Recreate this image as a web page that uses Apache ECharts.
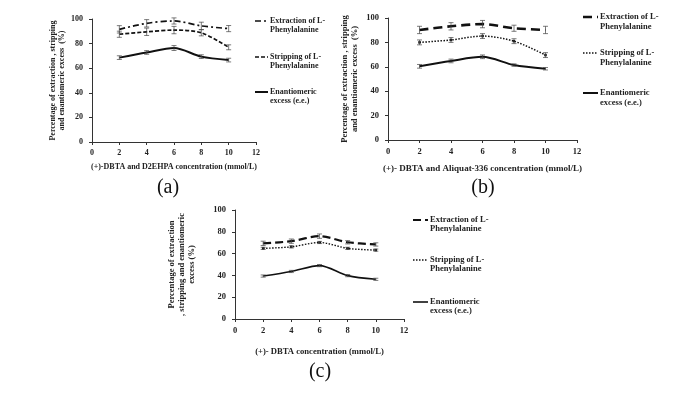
<!DOCTYPE html>
<html>
<head>
<meta charset="utf-8">
<script src="https://cdn.jsdelivr.net/npm/echarts@6/dist/echarts.min.js"></script>
<style>
  html, body { margin: 0; padding: 0; background: #fff; }
  #chart { width: 700px; height: 393px; }
</style>
</head>
<body>
<div id="chart"></div>
<script>
// concentration (mmol/L)
const conc = [2, 4, 6, 8, 10];

// (a) (+)-DBTA and D2EHPA
const extractA = [91.6, 96.5, 98.4, 94.4, 92.2];
const stripA = [87.6, 89.6, 91, 88.8, 77];
const eeA = [68.6, 72.8, 76.4, 69.4, 66.6];
const errExtractA = [3, 3, 2.5, 3, 2.5];
const errStripA = [2.5, 3, 3, 2.5, 2];
const errEeA = [1.5, 1.5, 2, 1.5, 1.5];

// (b) (+)-DBTA and Aliquat-336
const extractB = [90.2, 93.2, 95, 91.6, 90.2];
const stripB = [80, 82, 85.2, 81, 69.6];
const eeB = [60.4, 64.8, 68.2, 61.4, 58.4];
const errExtractB = [3, 3, 3, 2.5, 3];
const errStripB = [2, 2, 2, 2, 2];
const errEeB = [1.5, 1.5, 1.5, 1, 1];

// (c) (+)-DBTA
const extractC = [69.4, 71.4, 76, 70.4, 68.4];
const stripC = [64.8, 66.2, 70.2, 64.8, 63.2];
const eeC = [39.4, 43.6, 49, 39.8, 36.4];
const errExtractC = [2, 2, 2, 1.5, 1.5];
const errStripC = [1, 1, 1, 1, 1];
const errEeC = [1, 1, 1, 1, 1];

const legendNames = ["Extraction of L-\nPhenylalanine", "Stripping of L-\nPhenylalanine", "Enantiomeric\nexcess (e.e.)"];
const xTitles = [
  "(+)-DBTA and D2EHPA concentration (mmol/L)",
  "(+)- DBTA and Aliquat-336 concentration (mmol/L)",
  "(+)- DBTA concentration (mmol/L)"
];
const yTitles = [
  "Percentage of extraction , stripping\nand enantiomeric excess  (%)",
  "Percentage of extraction , stripping\nand enantiomeric excess  (%)",
  "Percentage of extraction\n, stripping and enantiomeric\nexcess (%)"
];
const panelLabels = ["(a)", "(b)", "(c)"];

const FONT = "Liberation Serif";
const chart = echarts.init(document.getElementById("chart"));

const grids = [
  { left: 92, top: 19, width: 164, height: 123 },
  { left: 388, top: 18, width: 189, height: 122 },
  { left: 235, top: 210, width: 169, height: 109 }
];
const xGaps = [21, 24, 28];
const yGaps = [25, 28, 38];
const fs = [8, 8.5, 8.5];
const titleFs = [8, 9, 8.6];

const xAxes = grids.map((g, i) => ({
  gridIndex: i, type: "value", min: 0, max: 12, interval: 2,
  name: xTitles[i], nameLocation: "middle", nameGap: xGaps[i],
  nameTextStyle: { fontFamily: FONT, fontWeight: "bold", fontSize: titleFs[i], color: "#222" },
  axisLine: { lineStyle: { color: "#333", width: 1 } },
  axisTick: { show: true, length: 3, lineStyle: { color: "#333" } },
  axisLabel: { fontFamily: FONT, fontWeight: "bold", fontSize: fs[i], color: "#222", margin: 7 },
  splitLine: { show: false }
}));
const yAxes = grids.map((g, i) => ({
  gridIndex: i, type: "value", min: 0, max: 100, interval: 20,
  name: yTitles[i], nameLocation: "middle", nameGap: yGaps[i],
  nameTextStyle: { fontFamily: FONT, fontWeight: "bold", fontSize: fs[i], color: "#222", lineHeight: fs[i] + 1.5 },
  axisLine: { show: true, lineStyle: { color: "#333", width: 1 } },
  axisTick: { show: true, length: 3, lineStyle: { color: "#333" } },
  axisLabel: { fontFamily: FONT, fontWeight: "bold", fontSize: fs[i], color: "#222", margin: 9 },
  splitLine: { show: false }
}));

const pair = (ys) => conc.map((x, k) => [x, ys[k]]);

// styles per panel: [extraction, stripping, ee]
const styles = [
  [
    { type: [6, 3, 2, 3], width: 1.7, symbol: "none" },
    { type: [4, 2], width: 1.7, symbol: "none" },
    { type: "solid", width: 2, symbol: "none" }
  ],
  [
    { type: [9, 5], width: 2.6, symbol: "none" },
    { type: [1.5, 1.5], width: 1.5, symbol: "rect" },
    { type: "solid", width: 2, symbol: "none" }
  ],
  [
    { type: [8, 4], width: 2.2, symbol: "none" },
    { type: [1.5, 1.5], width: 1.4, symbol: "rect" },
    { type: "solid", width: 1.6, symbol: "none" }
  ]
];
const panelData = [
  [extractA, stripA, eeA],
  [extractB, stripB, eeB],
  [extractC, stripC, eeC]
];
const panelErr = [
  [errExtractA, errStripA, errEeA],
  [errExtractB, errStripB, errEeB],
  [errExtractC, errStripC, errEeC]
];

const series = [];
panelData.forEach((sets, p) => {
  sets.forEach((ys, s) => {
    const st = styles[p][s];
    series.push({
      type: "line", name: legendNames[s], xAxisIndex: p, yAxisIndex: p,
      data: pair(ys), smooth: 0.3,
      symbol: st.symbol, symbolSize: 2.5,
      itemStyle: { color: "#111" },
      lineStyle: { color: "#111", width: st.width, type: st.type },
      silent: true, z: 3
    });
    const err = panelErr[p][s];
    series.push({
      type: "custom", xAxisIndex: p, yAxisIndex: p, silent: true, z: 4,
      data: conc.map((x, k) => [x, ys[k] - err[k], ys[k] + err[k]]),
      renderItem: (params, api) => {
        const lo = api.coord([api.value(0), api.value(1)]);
        const hi = api.coord([api.value(0), api.value(2)]);
        const w = 2.5;
        const ls = { stroke: "#444", lineWidth: 0.7 };
        return {
          type: "group",
          children: [
            { type: "line", shape: { x1: lo[0], y1: lo[1], x2: hi[0], y2: hi[1] }, style: ls },
            { type: "line", shape: { x1: lo[0] - w, y1: lo[1], x2: lo[0] + w, y2: lo[1] }, style: ls },
            { type: "line", shape: { x1: hi[0] - w, y1: hi[1], x2: hi[0] + w, y2: hi[1] }, style: ls }
          ]
        };
      }
    });
  });
});

// hand drawn legends next to each panel
const legendPos = [
  { x: 255, len: 13, tx: 270, rows: [21, 57, 92], lh: 8.5 },
  { x: 583, len: 15, tx: 600, rows: [17, 53, 93], lh: 9.5 },
  { x: 413, len: 15, tx: 430, rows: [220, 260, 302], lh: 9 }
];
const graphic = [];
legendPos.forEach((lp, p) => {
  legendNames.forEach((nm, s) => {
    const st = styles[p][s];
    const y = lp.rows[s];
    graphic.push({
      type: "line", shape: { x1: lp.x, y1: y, x2: lp.x + lp.len, y2: y },
      style: { stroke: "#111", lineWidth: st.width, lineDash: st.type === "solid" ? null : st.type }
    });
    graphic.push({
      type: "text", x: lp.tx, y: y - lp.lh / 2,
      style: { text: nm, fontFamily: FONT, fontWeight: "bold", fontSize: fs[p], lineHeight: lp.lh, fill: "#222" }
    });
  });
});
const labelPos = [[168, 188], [483, 188], [320, 372]];
panelLabels.forEach((t, i) => {
  graphic.push({
    type: "text", x: labelPos[i][0], y: labelPos[i][1],
    style: { text: t, fontFamily: FONT, fontSize: 20, fill: "#111", align: "center", verticalAlign: "middle" }
  });
});

chart.setOption({
  backgroundColor: "#fff",
  animation: false,
  grid: grids,
  xAxis: xAxes,
  yAxis: yAxes,
  series: series,
  graphic: graphic
});
</script>
</body>
</html>
